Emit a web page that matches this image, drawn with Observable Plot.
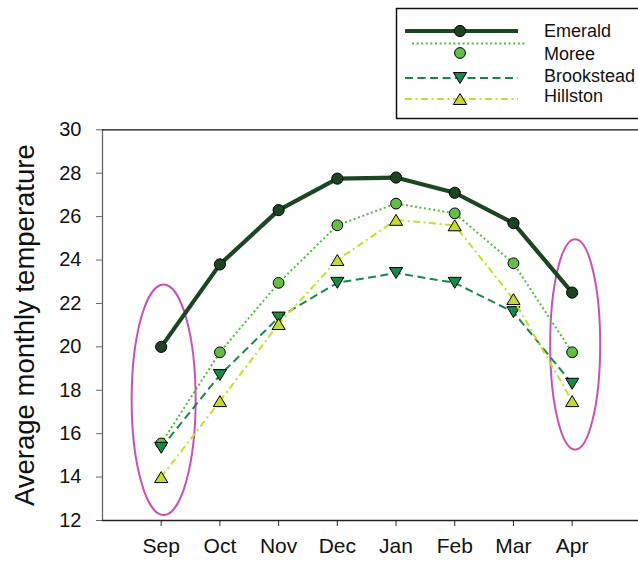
<!DOCTYPE html>
<html>
<head>
<meta charset="utf-8">
<script src="https://cdn.jsdelivr.net/npm/d3@7"></script>
<script src="https://cdn.jsdelivr.net/npm/@observablehq/plot@0.6"></script>
<style>
  html, body { margin: 0; padding: 0; background: #fff; overflow: hidden; }
  body { width: 638px; height: 562px; font-family: "Liberation Sans", Arial, sans-serif; }
  #legend { position: relative; width: 638px; height: 120px; overflow: hidden; }
  #chart svg { display: block; }
</style>
</head>
<body>
<div id="legend"></div>
<div id="chart"></div>
<script>
// ---- data ----
const months = ["Sep", "Oct", "Nov", "Dec", "Jan", "Feb", "Mar", "Apr"];
const emerald    = [20.0, 23.8, 26.3, 27.75, 27.8, 27.1, 25.7, 22.5];
const moree      = [15.55, 19.75, 22.95, 25.6, 26.6, 26.15, 23.85, 19.75];
const brookstead = [15.35, 18.7, 21.35, 22.95, 23.4, 22.95, 21.6, 18.3];
const hillston   = [14.0, 17.5, 21.05, 24.0, 25.85, 25.6, 22.2, 17.5];
const seriesNames = ["Emerald", "Moree", "Brookstead", "Hillston"];
const yTicks = [12, 14, 16, 18, 20, 22, 24, 26, 28, 30];
const yLabel = "Average monthly temperature";
// highlighted months (ellipse annotations): centre month index, centre temp, half-width (months), half-height (°)
const highlights = [
  {month: 1.05, temp: 17.54, halfMonths: 0.545, halfTemp: 5.31},
  {month: 8.06, temp: 20.09, halfMonths: 0.426, halfTemp: 4.85}
];

// ---- styles ----
const triUp = {draw(ctx, size) { const r = Math.sqrt(size / Math.PI); const h = r * 0.83;
  ctx.moveTo(0, -h); ctx.lineTo(r, h); ctx.lineTo(-r, h); ctx.closePath(); }};
const triDown = {draw(ctx, size) { const r = Math.sqrt(size / Math.PI); const h = r * 0.83;
  ctx.moveTo(0, h); ctx.lineTo(r, -h); ctx.lineTo(-r, -h); ctx.closePath(); }};
const styles = {
  Emerald:    {line: "#1c4622", width: 4.2, dash: null,        fill: "#1d4421", symbol: "circle", r: 5.6},
  Moree:      {line: "#4fbb3c", width: 2,   dash: "2,2.6",     fill: "#63bd48", symbol: "circle", r: 5.4},
  Brookstead: {line: "#17884a", width: 2,   dash: "8,4.5",     fill: "#168a46", symbol: triDown,  r: 6.6},
  Hillston:   {line: "#c6dd2c", width: 2,   dash: "7,3.5,2,3.5", fill: "#c5d932", symbol: triUp, r: 6.6}
};

const values = {Emerald: emerald, Moree: moree, Brookstead: brookstead, Hillston: hillston};
const rows = seriesNames.map(name => values[name].map((v, i) => ({series: name, month: i + 1, temp: v})));

const marks = [];
// ellipse annotations drawn through the scales
marks.push((index, scales) => {
  const g = d3.create("svg:g").attr("fill", "none").attr("stroke", "#c552b5").attr("stroke-width", 2);
  for (const e of highlights) {
    const cx = scales.x(e.month), cy = scales.y(e.temp);
    g.append("ellipse")
      .attr("cx", cx).attr("cy", cy)
      .attr("rx", Math.abs(scales.x(e.month + e.halfMonths) - cx))
      .attr("ry", Math.abs(scales.y(e.temp + e.halfTemp) - cy));
  }
  return g.node();
});
seriesNames.forEach((name, k) => {
  const s = styles[name];
  marks.push(Plot.line(rows[k], {x: "month", y: "temp", stroke: s.line, strokeWidth: s.width,
    strokeDasharray: s.dash ?? undefined, strokeLinecap: "butt"}));
  marks.push(Plot.dot(rows[k], {x: "month", y: "temp", symbol: s.symbol, r: s.r,
    fill: s.fill, stroke: "#000", strokeWidth: 1}));
});
marks.push(
  Plot.ruleX([0], {stroke: "#666", strokeWidth: 1.3}),
  Plot.ruleY([12], {stroke: "#222", strokeWidth: 1.3}),
  Plot.ruleY([30], {stroke: "#111", strokeWidth: 1.3}),
  Plot.axisY({ticks: yTicks, tickSize: 6, tickPadding: 15, fontSize: 20, stroke: "#666", label: null}),
  Plot.axisX({ticks: months.map((m, i) => i + 1), tickFormat: i => months[i - 1], tickSize: 6,
    tickPadding: 12, fontSize: 21, stroke: "#222", label: null}),
  Plot.text([yLabel], {frameAnchor: "left", textAnchor: "middle", lineAnchor: "middle", rotate: -90,
    dx: -77.5, fontSize: 27.5, fill: "#111"})
);

const chart = Plot.plot({
  width: 638, height: 442,
  marginTop: 9.3, marginBottom: 42, marginLeft: 102, marginRight: 0,
  style: {fontFamily: '"Liberation Sans", Arial, sans-serif', color: "#111", background: "#fff", overflow: "visible"},
  x: {type: "linear", domain: [0, 9.13]},
  y: {domain: [12, 30]},
  marks
});
document.getElementById("chart").appendChild(chart);

// ---- legend (HTML-level, above the chart SVG) ----
const lg = d3.select("#legend").append("svg").attr("width", 638).attr("height", 120)
  .style("font-family", '"Liberation Sans", Arial, sans-serif');
lg.append("rect").attr("x", 396.5).attr("y", 8.5).attr("width", 300).attr("height", 110)
  .attr("fill", "#fff").attr("stroke", "#111").attr("stroke-width", 1.5);
const legendRows = [
  {name: "Emerald",    lineY: 31,   x1: 405, x2: 518, markY: 31, textY: 37},
  {name: "Moree",      lineY: 43.5, x1: 412, x2: 527, markY: 53, textY: 60.3},
  {name: "Brookstead", lineY: 78,   x1: 405, x2: 518, markY: 78, textY: 82.3},
  {name: "Hillston",   lineY: 99,   x1: 405, x2: 518, markY: 99, textY: 102.3}
];
for (const r of legendRows) {
  const s = styles[r.name];
  lg.append("line").attr("x1", r.x1).attr("x2", r.x2).attr("y1", r.lineY).attr("y2", r.lineY)
    .attr("stroke", s.line).attr("stroke-width", s.width).attr("stroke-dasharray", s.dash);
  const sym = s.symbol === "circle" ? d3.symbolCircle : s.symbol;
  lg.append("path").attr("transform", `translate(460,${r.markY})`)
    .attr("d", d3.symbol(sym, Math.PI * s.r * s.r)())
    .attr("fill", s.fill).attr("stroke", "#000").attr("stroke-width", 1);
  lg.append("text").attr("x", 544).attr("y", r.textY).attr("font-size", 18).attr("fill", "#111").text(r.name);
}
</script>
</body>
</html>
